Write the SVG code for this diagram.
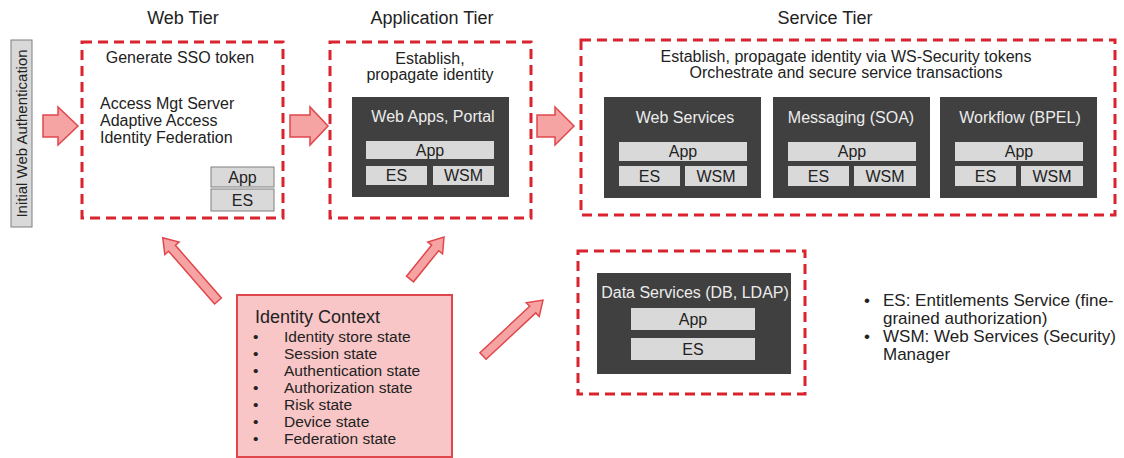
<svg xmlns="http://www.w3.org/2000/svg" width="1124" height="458" viewBox="0 0 1124 458">
<style>
.t{font-family:"Liberation Sans",Arial,sans-serif;font-size:16px;fill:#222}
.c{text-anchor:middle}
.title{font-size:18px}
.w{fill:#ececec}
.dash{fill:none;stroke:#d9232e;stroke-width:3;stroke-dasharray:10 6}
.dark{fill:#404040}
.light{fill:#d9d9d9}
.lightb{fill:#d9d9d9;stroke:#7f7f7f;stroke-width:1}
.arrow{fill:#f6a3a3;stroke:#e0474c;stroke-width:1.5;stroke-linejoin:miter}
</style>
<rect width="1124" height="458" fill="#ffffff"/>

<g id="initial-auth">
<rect class="lightb" x="11" y="40" width="21" height="187"/>
<text class="t c" font-size="15" transform="translate(27,133.5) rotate(-90)" style="font-size:15px">Initial Web Authentication</text>
</g>

<g id="web-tier">
<text class="t c title" x="183" y="24">Web Tier</text>
<rect class="dash" x="82" y="42" width="201" height="176"/>
<text class="t c" x="180" y="63">Generate SSO token</text>
<text class="t" x="100" y="109">Access Mgt Server</text>
<text class="t" x="100" y="126">Adaptive Access</text>
<text class="t" x="100" y="143">Identity Federation</text>
<rect class="lightb" x="211" y="167" width="63" height="20"/>
<text class="t c" x="242.5" y="183">App</text>
<rect class="lightb" x="211" y="189" width="63" height="22"/>
<text class="t c" x="242.5" y="206">ES</text>
</g>

<g id="application-tier">
<text class="t c title" x="432" y="24">Application Tier</text>
<rect class="dash" x="330" y="42" width="201" height="176"/>
<text class="t c" x="430" y="64">Establish,</text>
<text class="t c" x="430" y="80">propagate identity</text>
<g id="web-apps-portal">
<rect class="dark" x="352" y="97" width="157" height="100"/>
<text class="t c w" x="433" y="122">Web Apps, Portal</text>
<rect class="light" x="366" y="141" width="128" height="18"/>
<text class="t c" x="430" y="156">App</text>
<rect class="light" x="366" y="166" width="61" height="19"/>
<text class="t c" x="396.5" y="181">ES</text>
<rect class="light" x="433" y="166" width="61" height="19"/>
<text class="t c" x="463.5" y="181">WSM</text>
</g>
</g>

<g id="service-tier">
<text class="t c title" x="825" y="24">Service Tier</text>
<rect class="dash" x="581" y="40" width="534" height="175"/>
<text class="t c" x="846" y="62">Establish, propagate identity via WS-Security tokens</text>
<text class="t c" x="846" y="78">Orchestrate and secure service transactions</text>
<g id="web-services">
<rect class="dark" x="604" y="97" width="157" height="101"/>
<text class="t c w" x="685" y="123">Web Services</text>
<rect class="light" x="619" y="142" width="128" height="19"/>
<text class="t c" x="683" y="157">App</text>
<rect class="light" x="619" y="166" width="61" height="20"/>
<text class="t c" x="649.5" y="182">ES</text>
<rect class="light" x="685" y="166" width="62" height="20"/>
<text class="t c" x="716" y="182">WSM</text>
</g>
<g id="messaging">
<rect class="dark" x="773" y="97" width="157" height="101"/>
<text class="t c w" x="851" y="123">Messaging (SOA)</text>
<rect class="light" x="788" y="142" width="128" height="19"/>
<text class="t c" x="852" y="157">App</text>
<rect class="light" x="788" y="166" width="61" height="20"/>
<text class="t c" x="818.5" y="182">ES</text>
<rect class="light" x="854" y="166" width="62" height="20"/>
<text class="t c" x="885" y="182">WSM</text>
</g>
<g id="workflow">
<rect class="dark" x="940" y="97" width="157" height="101"/>
<text class="t c w" x="1020" y="123">Workflow (BPEL)</text>
<rect class="light" x="955" y="142" width="128" height="19"/>
<text class="t c" x="1019" y="157">App</text>
<rect class="light" x="955" y="166" width="61" height="20"/>
<text class="t c" x="985.5" y="182">ES</text>
<rect class="light" x="1021" y="166" width="62" height="20"/>
<text class="t c" x="1052" y="182">WSM</text>
</g>
</g>

<g id="data-services">
<rect class="dash" x="578" y="251" width="227" height="143"/>
<rect class="dark" x="597" y="273" width="194" height="101"/>
<text class="t c w" x="695" y="298">Data Services (DB, LDAP)</text>
<rect class="light" x="631" y="308" width="124" height="22"/>
<text class="t c" x="693" y="325">App</text>
<rect class="light" x="631" y="338" width="124" height="22"/>
<text class="t c" x="693" y="355">ES</text>
</g>

<g id="identity-context">
<rect x="237" y="295" width="215" height="162" fill="#f8c6c6" stroke="#e0474c" stroke-width="2"/>
<text class="t title" x="255" y="323">Identity Context</text>
<g class="t" style="font-size:15.5px">
<text x="253" y="342">•</text><text x="284" y="342">Identity store state</text>
<text x="253" y="359">•</text><text x="284" y="359">Session state</text>
<text x="253" y="376">•</text><text x="284" y="376">Authentication state</text>
<text x="253" y="393">•</text><text x="284" y="393">Authorization state</text>
<text x="253" y="410">•</text><text x="284" y="410">Risk state</text>
<text x="253" y="427">•</text><text x="284" y="427">Device state</text>
<text x="253" y="444">•</text><text x="284" y="444">Federation state</text>
</g>
</g>

<g id="legend" class="t" style="font-size:17px">
<text x="864" y="306">•</text><text x="883" y="306">ES: Entitlements Service (fine-</text>
<text x="883" y="324">grained authorization)</text>
<text x="864" y="342">•</text><text x="883" y="342">WSM: Web Services (Security)</text>
<text x="883" y="360">Manager</text>
</g>

<g id="connectors">
<path class="arrow" d="M43,115 H58 V107 L78,126 L58,145 V137 H43 Z"/>
<path class="arrow" d="M290,115 H310 V107 L328,126 L310,145 V137 H290 Z"/>
<path class="arrow" d="M537,115 H555 V107 L574,126 L555,145 V137 H537 Z"/>
<path class="arrow" transform="translate(218,301) rotate(-131.1)" d="M0,-4.5 H70 V-9.5 L84,0 L70,9.5 V4.5 H0 Z"/>
<path class="arrow" transform="translate(410,279) rotate(-51)" d="M0,-4.5 H40 V-9.5 L54,0 L40,9.5 V4.5 H0 Z"/>
<path class="arrow" transform="translate(483,356) rotate(-43)" d="M0,-4.5 H68 V-9.5 L82,0 L68,9.5 V4.5 H0 Z"/>
</g>
</svg>
